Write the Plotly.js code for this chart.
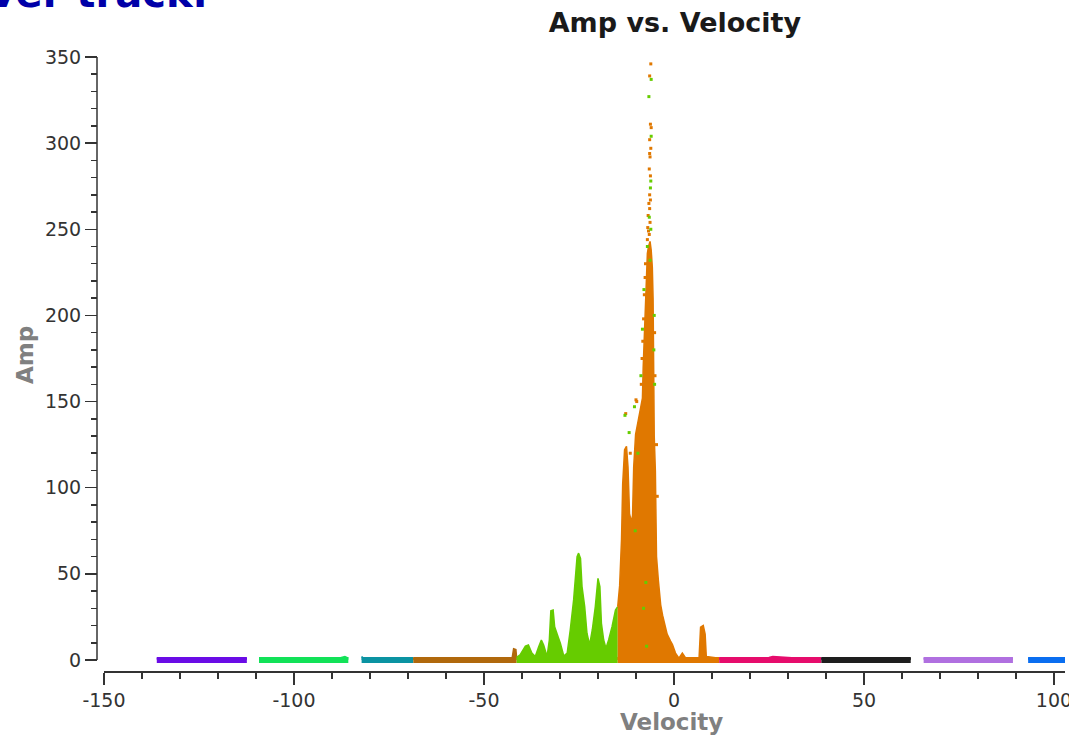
<!DOCTYPE html>
<html>
<head>
<meta charset="utf-8">
<script src="https://cdn.plot.ly/plotly-3.0.1.min.js"></script>
<style>
  html, body { margin: 0; padding: 0; background: #fff; }
  #ampplot { width: 1069px; height: 735px; }
</style>
</head>
<body>
<div id="ampplot"></div>
<script>
// envelopes, one pair of arrays per velocity segment
var purpleV = [-136.1, -130, -124, -118, -112.4];
var purpleA = [1.0, 1.3, 1.2, 1.1, 1.0];
var greenV = [-109.2, -102, -95, -88, -86.6, -85.7];
var greenA = [1.0, 1.1, 1.0, 1.2, 2.0, 1.0];
var tealV = [-82.2, -81.8, -76, -68.6];
var tealA = [2.0, 1.2, 1.0, 1.0];
var brownV = [-68.6, -60, -50, -42.6, -42.2, -41.6, -41.4];
var brownA = [1.0, 1.1, 1.0, 1.0, 6.5, 6.0, 1.0];
var limeV = [-41.4, -40.5, -39.1, -38.3, -37.4, -36.5, -35.6, -34.9, -34.3, -33.4,
             -32.8, -32.4, -31.8, -31.4, -30.5, -29.9, -29.0, -28.1, -27.3, -26.4,
             -25.5, -25.1, -24.6, -24.2, -23.5, -22.9, -22.2, -21.5, -20.7, -20.0,
             -19.5, -19.1, -18.5, -17.9, -17.2, -16.3, -15.4, -14.8];
var limeA = [1.5, 3, 8, 8.7, 4, 2, 7.7, 11.6, 8.7, 2,
             11.6, 28.6, 29, 19.3, 13.5, 9.7, 2.3, 4, 17.4, 35,
             60, 62, 59, 42.6, 31, 15.5, 8.7, 17.4, 31, 47.4,
             42.6, 21.3, 11.6, 6.8, 11.6, 19.3, 29, 31];
var orangeV = [-14.8, -14.3, -13.8, -13.5, -13.0, -12.5, -12.1, -11.7, -11.2, -10.9,
               -10.6, -10.1, -9.4, -8.8, -8.3, -8.1, -7.8, -7.6, -7.4, -7.2,
               -7.0, -6.7, -6.3, -6.0, -5.7, -5.5, -5.4, -5.2, -4.9, -4.8,
               -4.6, -4.1, -3.5, -3.0, -2.6, -1.8, -0.9, -0.4, 0.4, 1.3,
               2.2, 3.1, 6.6, 7.0, 7.7, 8.2, 8.5, 11.9];
var orangeA = [31, 43, 70, 102, 122, 124, 112, 85, 80, 84,
               112, 131, 139, 145, 152, 170, 190, 205, 218, 228,
               236, 240, 243, 238, 228, 210, 151, 130, 110, 80,
               60, 46, 32, 26, 22, 15, 11, 9, 4, 1,
               4, 1, 1, 19, 20, 15, 2, 1];
var pinkV = [11.9, 20, 25, 26, 32, 38.8];
var pinkA = [1.0, 1.2, 1.4, 2.0, 1.2, 1.0];
var blackV = [38.8, 45, 52, 58, 62.3];
var blackA = [1.0, 1.1, 1.0, 1.1, 1.0];
var lavenderV = [65.7, 72, 78, 84, 89.2];
var lavenderA = [1.0, 1.2, 1.1, 1.2, 1.0];
var blueV = [93.2, 100, 108, 116];
var blueA = [1.0, 1.2, 1.1, 1.0];

// stray samples round the main peak
var orangePtsV = [-6.1, -6.4, -6.2, -6.0, -6.4, -6.1, -6.4, -6.3, -6.5, -6.2, -6.4, -6.2,
                  -6.6, -6.4, -6.8, -6.3, -6.9, -6.5, -7.0, -6.7, -12.7, -10.0, -11.5, -9.8,
                  -8.6, -8.4, -8.2, -8.0, -7.8, -7.6, -7.5, -5.1, -5.0, -4.6, -4.4];
var orangePtsA = [346, 339, 311, 309, 302, 297, 294, 292, 285, 281, 270, 267,
                  265, 262, 258, 254, 251, 247, 244, 249, 143, 151, 120, 150,
                  160, 175, 185, 198, 212, 222, 230, 190, 165, 125, 95];
var greenPtsV = [-6.0, -6.6, -6.0, -6.1, -6.2, -6.5, -6.1, -7.0, -6.3, -12.9, -11.8, -10.4,
                 -8.0, -7.2, -8.7, -8.3, -7.9, -5.2, -5.3, -5.1, -9.5, -10.2, -7.4];
var greenPtsA = [337, 327, 304, 278, 274, 257, 250, 240, 232, 142, 132, 147,
                 30, 8, 165, 192, 215, 200, 180, 160, 120, 75, 45];

// tick labels as printed (plain hyphen)
var xTickVals = [-150, -100, -50, 0, 50, 100];
var xTickText = ['-150', '-100', '-50', '0', '50', '100'];

var segments = [
  [purpleV, purpleA, '#6a0ce6'],
  [greenV, greenA, '#12e258'],
  [tealV, tealA, '#0b93a2'],
  [brownV, brownA, '#b0680c'],
  [limeV, limeA, '#66cc00'],
  [orangeV, orangeA, '#e07800'],
  [pinkV, pinkA, '#e60c6c'],
  [blackV, blackA, '#1e1e1e'],
  [lavenderV, lavenderA, '#b070e0'],
  [blueV, blueA, '#0a6ef0']
];

var data = [];
segments.forEach(function (s) {
  var v = s[0], a = s[1], c = s[2];
  data.push({x: v, y: a, type: 'scatter', mode: 'lines', fill: 'tozeroy',
             fillcolor: c, line: {color: c, width: 1.5}, hoverinfo: 'skip'});
  data.push({x: [v[0], v[v.length - 1]], y: [0, 0], type: 'scatter', mode: 'lines',
             line: {color: c, width: 6}, hoverinfo: 'skip'});
});
data.push({x: orangePtsV, y: orangePtsA, type: 'scatter', mode: 'markers',
           marker: {color: '#e07800', size: 3, symbol: 'square'}, hoverinfo: 'skip'});
data.push({x: greenPtsV, y: greenPtsA, type: 'scatter', mode: 'markers',
           marker: {color: '#66cc00', size: 3, symbol: 'square'}, hoverinfo: 'skip'});

var font = 'DejaVu Sans, Verdana, sans-serif';
var layout = {
  width: 1069, height: 735,
  margin: {l: 97, r: 4, t: 57, b: 64, pad: 0},
  showlegend: false,
  paper_bgcolor: '#fff', plot_bgcolor: '#fff',
  font: {family: font, color: '#333', size: 19},
  title: {text: 'Amp vs. Velocity', x: 0.597, xref: 'paper', xanchor: 'center',
          y: 0.970, yref: 'container', yanchor: 'middle',
          font: {family: font, size: 27, weight: 'bold', color: '#1a1a1a'}},
  xaxis: {range: [-150, 102.9], domain: [0.0072, 1], anchor: 'free', position: 0,
          showgrid: false, zeroline: false, showline: true, linecolor: '#333', linewidth: 1.5,
          ticks: 'outside', tickcolor: '#333', ticklen: 12, tickwidth: 1.5,
          tickmode: 'array', tickvals: xTickVals, ticktext: xTickText,
          ticklabeloverflow: 'allow',
          minor: {dtick: 10, tick0: 0, ticks: 'outside', ticklen: 6, tickcolor: '#333', tickwidth: 1.5},
          tickfont: {family: font, size: 19, color: '#333'}},
  yaxis: {range: [-6.4, 350], domain: [0, 1], anchor: 'free', position: 0,
          showgrid: false, zeroline: false, showline: false,
          ticks: 'outside', tickcolor: '#333', ticklen: 12, tickwidth: 1.5, dtick: 50, tick0: 0,
          minor: {dtick: 10, ticks: 'outside', ticklen: 6, tickcolor: '#333', tickwidth: 1.5},
          tickfont: {family: font, size: 19, color: '#333'}},
  shapes: [{type: 'line', xref: 'paper', yref: 'y', x0: 0, x1: 0, y0: 0, y1: 350,
            line: {color: '#333', width: 1.5}}],
  annotations: [
    {text: 'Velocity', xref: 'paper', yref: 'paper', x: 0.593, y: -0.083,
     xanchor: 'center', yanchor: 'middle', showarrow: false,
     font: {family: font, size: 23, weight: 'bold', color: '#808080'}},
    {text: 'Amp', xref: 'paper', yref: 'paper', x: -0.0744, y: 0.5147, textangle: -90,
     xanchor: 'center', yanchor: 'middle', showarrow: false,
     font: {family: font, size: 23, weight: 'bold', color: '#808080'}},
    {text: 'Receiver track.', xref: 'paper', yref: 'paper', x: 0.1167, y: 1.0635,
     xanchor: 'right', yanchor: 'bottom', showarrow: false,
     font: {family: font, size: 40, weight: 'bold', color: '#0000a8'}}
  ]
};

Plotly.newPlot('ampplot', data, layout, {displayModeBar: false, staticPlot: true});
</script>
</body>
</html>
